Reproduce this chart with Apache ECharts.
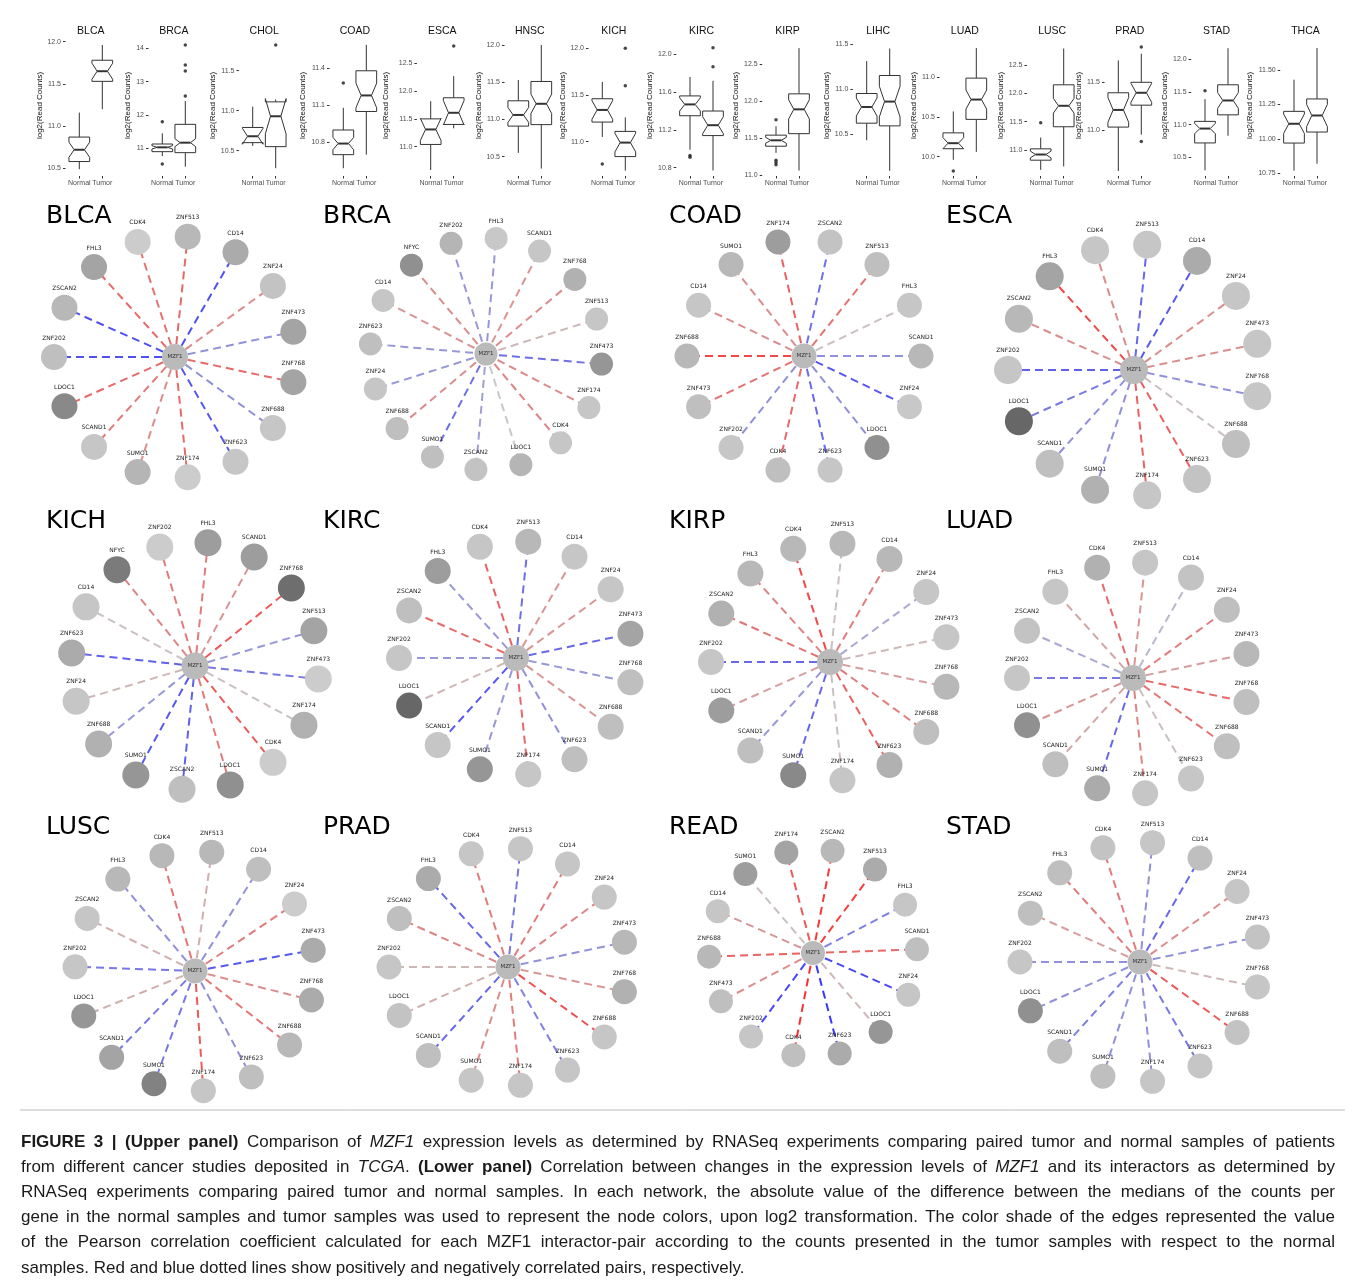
<!DOCTYPE html>
<html>
<head>
<meta charset="utf-8">
<script src="https://cdn.jsdelivr.net/npm/echarts@6/dist/echarts.min.js"></script>
<style>
  html, body { margin: 0; padding: 0; background: #ffffff; }
  #chart { width: 1360px; height: 1286px; }
</style>
</head>
<body>
<div id="chart"></div>
<script>
// ---------------- Upper panel: MZF1 expression, log2(read counts) ----------------
const cancerTypes = ['BLCA','BRCA','CHOL','COAD','ESCA','HNSC','KICH','KIRC','KIRP','LIHC','LUAD','LUSC','PRAD','STAD','THCA'];
const groups = ['Normal', 'Tumor'];

// [lower whisker, Q1, median, Q3, upper whisker, notch half-height]
const normalStats = [
  [10.49, 10.58, 10.72, 10.87, 11.16, 0.09],
  [10.77, 10.90, 11.03, 11.13, 11.45, 0.05],
  [10.56, 10.60, 10.68, 10.79, 11.05, 0.10],
  [10.59, 10.70, 10.79, 10.90, 11.08, 0.05],
  [10.58, 11.04, 11.31, 11.50, 11.82, 0.20],
  [10.55, 10.91, 11.06, 11.25, 11.53, 0.10],
  [11.05, 11.21, 11.34, 11.46, 11.64, 0.10],
  [10.99, 11.35, 11.47, 11.56, 11.76, 0.07],
  [11.30, 11.39, 11.47, 11.54, 11.66, 0.04],
  [10.43, 10.62, 10.80, 10.95, 11.31, 0.10],
  [9.96, 10.10, 10.17, 10.30, 10.57, 0.07],
  [10.65, 10.82, 10.92, 11.02, 11.22, 0.06],
  [10.57, 11.03, 11.21, 11.39, 11.73, 0.13],
  [10.30, 10.72, 10.94, 11.05, 11.39, 0.08],
  [10.77, 10.97, 11.11, 11.20, 11.43, 0.07]
];
const tumorStats = [
  [11.20, 11.53, 11.65, 11.78, 11.96, 0.095],
  [10.45, 10.87, 11.17, 11.72, 12.42, 0.12],
  [10.28, 10.55, 10.93, 11.11, 11.14, 0.22],
  [10.70, 11.05, 11.18, 11.38, 11.59, 0.10],
  [11.33, 11.40, 11.61, 11.88, 12.27, 0.22],
  [10.34, 10.93, 11.21, 11.51, 12.00, 0.13],
  [10.69, 10.84, 10.99, 11.11, 11.26, 0.10],
  [10.77, 11.14, 11.25, 11.40, 11.72, 0.09],
  [11.06, 11.56, 11.89, 12.10, 12.72, 0.13],
  [10.09, 10.59, 10.86, 11.15, 11.45, 0.17],
  [10.06, 10.47, 10.72, 10.99, 11.37, 0.12],
  [10.71, 11.41, 11.78, 12.15, 12.79, 0.13],
  [10.95, 11.26, 11.39, 11.50, 11.80, 0.10],
  [10.83, 11.15, 11.37, 11.61, 12.17, 0.12],
  [10.82, 11.05, 11.17, 11.29, 11.66, 0.08]
];
const normalOutliers = [[], [11.8, 10.53], [], [11.28], [], [], [10.76], [10.93, 10.91], [11.75, 11.2, 11.17, 11.14], [], [9.82], [11.48], [], [11.52], []];
const tumorOutliers = [[], [14.1, 13.5, 13.32, 12.57], [11.82], [], [12.81], [], [12.0, 11.6], [12.07, 11.87], [], [], [], [], [11.87, 10.88], [], []];

// y-axis limits and tick labels of each small plot
const yLimits = [
  [10.409, 12.079], [10.17, 14.40], [10.183, 11.946], [10.527, 11.670], [10.472, 13.010],
  [10.240, 12.134], [10.632, 12.143], [10.712, 12.205], [10.986, 12.898], [10.033, 11.600],
  [9.756, 11.534], [10.541, 13.029], [10.517, 11.996], [10.214, 12.372], [10.731, 11.754]
];
const yTicks = [
  [10.5, 11.0, 11.5, 12.0], [11, 12, 13, 14], [10.5, 11.0, 11.5], [10.8, 11.1, 11.4], [11.0, 11.5, 12.0, 12.5],
  [10.5, 11.0, 11.5, 12.0], [11.0, 11.5, 12.0], [10.8, 11.2, 11.6, 12.0], [11.0, 11.5, 12.0, 12.5], [10.5, 11.0, 11.5],
  [10.0, 10.5, 11.0], [11.0, 11.5, 12.0, 12.5], [11.0, 11.5], [10.5, 11.0, 11.5, 12.0], [10.75, 11.00, 11.25, 11.50]
];
const yTickDecimals = [1, 0, 1, 1, 1, 1, 1, 1, 1, 1, 1, 1, 1, 1, 2];

// ---------------- Lower panel: MZF1 interaction networks ----------------
const networkNames = ['BLCA','BRCA','COAD','ESCA','KICH','KIRC','KIRP','LUAD','LUSC','PRAD','READ','STAD'];

// interactors, clockwise around MZF1
const ringA = ['ZNF202','ZSCAN2','FHL3','CDK4','ZNF513','CD14','ZNF24','ZNF473','ZNF768','ZNF688','ZNF623','ZNF174','SUMO1','SCAND1','LDOC1'];
const ringB = ['ZNF688','CD14','SUMO1','ZNF174','ZSCAN2','ZNF513','FHL3','SCAND1','ZNF24','LDOC1','ZNF623','CDK4','ZNF202','ZNF473'];
const ringC = ['ZNF623','CD14','NFYC','ZNF202','FHL3','SCAND1','ZNF768','ZNF513','ZNF473','ZNF174','CDK4','LDOC1','ZSCAN2','SUMO1','ZNF688','ZNF24'];

// node shade: |median(normal) - median(tumor)| on log2 scale (0..1 shade range)
// edge: Pearson correlation of MZF1 with each interactor
const blcaDiff = [.15,.2,.35,.05,.2,.3,.12,.35,.35,.1,.1,.05,.22,.1,.55];
const blcaCorr = [-.75,-.75,.55,.5,.55,-.75,.35,-.35,.55,-.35,-.7,.55,.35,.45,.55];
const brcaDiff = [.15,.1,.5,.22,.08,.1,.25,.1,.45,.1,.1,.22,.12,.15,.15,.1];
const brcaCorr = [-.3,.3,.35,-.3,-.3,.3,.35,.1,-.55,.35,.4,0,-.25,-.55,.35,-.3];
const coadDiff = [.2,.1,.2,.4,.12,.15,.1,.2,.08,.5,.1,.15,.1,.15];
const coadCorr = [.75,.35,.35,.6,-.55,.5,.05,-.35,-.7,-.35,-.6,.55,-.35,.5];
const escaDiff = [.1,.2,.35,.1,.1,.3,.1,.1,.1,.15,.12,.1,.25,.15,.8];
const escaCorr = [-.65,.35,.75,.35,-.6,-.7,.35,.35,-.35,.05,.6,.6,-.35,-.35,-.5];
const kichDiff = [.3,.1,.65,.05,.4,.4,.75,.35,.05,.25,.05,.5,.15,.45,.25,.1];
const kichCorr = [-.65,.05,.4,.45,.45,.3,.65,-.3,-.5,.05,.65,.45,-.65,-.7,-.3,.1];
const kircDiff = [.1,.15,.4,.1,.2,.1,.1,.35,.15,.15,.15,.1,.45,.1,.8];
const kircCorr = [-.3,.55,-.3,.6,-.55,.3,.3,-.6,-.3,.3,-.35,.55,-.3,-.7,.1];
const kirpDiff = [.1,.25,.2,.2,.2,.2,.1,.1,.2,.15,.25,.1,.55,.15,.4];
const kirpCorr = [-.6,.5,.4,.75,.05,.45,-.2,.1,.25,.45,.6,.05,-.6,-.3,.25];
const luadDiff = [.1,.12,.1,.25,.1,.12,.15,.2,.15,.15,.1,.1,.3,.15,.5];
const luadCorr = [-.5,-.2,.2,.55,.3,-.1,.45,.25,.55,.5,.05,.4,-.6,.2,.3];
const luscDiff = [.1,.1,.2,.2,.2,.15,.05,.3,.3,.2,.15,.1,.6,.35,.45];
const luscCorr = [-.5,.15,-.35,.5,.15,-.35,.45,-.7,.35,.5,-.35,.65,-.5,-.5,.15];
const pradDiff = [.1,.15,.3,.1,.1,.1,.1,.2,.25,.1,.1,.1,.1,.15,.12];
const pradCorr = [.1,.4,-.6,.45,-.5,.45,.4,-.35,.3,.7,-.45,.45,.35,-.6,.15];
const readDiff = [.2,.1,.4,.35,.2,.3,.1,.15,.1,.45,.3,.15,.1,.15];
const readCorr = [.6,.3,.05,.65,.85,.8,-.45,.55,-.8,.1,-.9,.9,-.8,.35];
const stadDiff = [.1,.15,.15,.12,.1,.15,.1,.12,.1,.12,.1,.1,.15,.15,.5];
const stadCorr = [-.35,.25,.45,.45,-.35,-.6,.35,-.35,.1,.65,-.5,-.35,-.35,-.45,-.35];

const networkGenes = [ringA, ringC, ringB, ringA, ringC, ringA, ringA, ringA, ringA, ringA, ringB, ringA];
const networkDiffs = [blcaDiff, brcaDiff, coadDiff, escaDiff, kichDiff, kircDiff, kirpDiff, luadDiff, luscDiff, pradDiff, readDiff, stadDiff];
const networkCorrs = [blcaCorr, brcaCorr, coadCorr, escaCorr, kichCorr, kircCorr, kirpCorr, luadCorr, luscCorr, pradCorr, readCorr, stadCorr];

// ---------------- layout ----------------
const boxNormalX = [79.3, 162.3, 252.7, 343.3, 430.7, 518.3, 602.3, 690, 776, 866.7, 953.3, 1040.7, 1118.3, 1205, 1294];
const catStep = 23;
const yNameGap = [19, 17, 18, 23, 27, 22, 21, 20, 18, 19, 20, 19, 21, 18, 21];
const netLayout = [ // [centerX, centerY, ring radius, start angle, node size]
  [175, 357, 121, 180, 26], [486, 354, 116, 175, 23], [804, 356, 117, 180, 25], [1134, 370, 126, 180, 28],
  [195, 666, 124, 174, 27], [516, 658, 117, 180, 26], [830, 662, 119, 180, 26], [1133, 678, 116, 180, 26],
  [195, 971, 120, 178, 25], [508, 967, 119, 180, 25], [813, 953, 104, 182, 24], [1140, 962, 120, 180, 25]
];
const netTitlePos = [[46,216],[323,216],[669,216],[946,216],[46,521],[323,521],[669,521],[946,521],[46,827],[323,827],[669,827],[946,827]];

const BOX_FONT = '"Liberation Sans", Arial, sans-serif';
const NET_FONT = '"DejaVu Sans", sans-serif';

function nodeColor(d) {
  const g = Math.round(211 - d * 135);
  return `rgb(${g},${g},${g})`;
}
function edgeColor(r) {
  const t = Math.min(1, Math.abs(r));
  const base = [200, 200, 200];
  const end = r >= 0 ? [255, 30, 30] : [40, 40, 255];
  const c = base.map((b, k) => Math.round(b + (end[k] - b) * t));
  return `rgb(${c[0]},${c[1]},${c[2]})`;
}

function renderBox(params, api) {
  const x = api.value(0);
  const lo = api.value(1), q1 = api.value(2), med = api.value(3), q3 = api.value(4), hi = api.value(5), nh = api.value(6);
  const half = api.size([0.9, 0])[0] / 2;
  const P = v => api.coord([x, v])[1];
  const cx = api.coord([x, med])[0];
  const yq1 = P(q1), yq3 = P(q3), ym = P(med), ynl = P(med - nh), ynh = P(med + nh), ylo = P(lo), yhi = P(hi);
  const L = cx - half, R = cx + half, nL = cx - half / 2, nR = cx + half / 2;
  const stroke = { stroke: '#333333', lineWidth: 1 };
  return {
    type: 'group',
    children: [
      { type: 'line', shape: { x1: cx, y1: yhi, x2: cx, y2: yq3 }, style: stroke },
      { type: 'line', shape: { x1: cx, y1: yq1, x2: cx, y2: ylo }, style: stroke },
      { type: 'polygon', shape: { points: [[L, yq3], [R, yq3], [R, ynh], [nR, ym], [R, ynl], [R, yq1], [L, yq1], [L, ynl], [nL, ym], [L, ynh]] },
        style: { fill: '#ffffff', stroke: '#333333', lineWidth: 1 } },
      { type: 'line', shape: { x1: nL, y1: ym, x2: nR, y2: ym }, style: { stroke: '#333333', lineWidth: 2 } }
    ]
  };
}

const grids = [], xAxes = [], yAxes = [], series = [], graphics = [];

cancerTypes.forEach((name, i) => {
  const left = boxNormalX[i] - 0.6 * catStep;
  grids.push({ left: left, top: 35, width: 2.2 * catStep, height: 141 });
  xAxes.push({
    gridIndex: i, type: 'value', min: -0.6, max: 1.6,
    splitLine: { show: false }, axisLine: { show: false, onZero: false },
    axisTick: { show: true, length: 2.5, customValues: [0, 1], lineStyle: { color: '#333' } },
    axisLabel: { customValues: [0, 1], formatter: v => groups[Math.round(v)], fontSize: 7, color: '#4d4d4d', margin: 4, fontFamily: BOX_FONT }
  });
  const dec = yTickDecimals[i];
  yAxes.push({
    gridIndex: i, type: 'value', min: yLimits[i][0], max: yLimits[i][1],
    splitLine: { show: false }, axisLine: { show: false, onZero: false },
    axisTick: { show: true, length: 2.5, customValues: yTicks[i], lineStyle: { color: '#333' } },
    axisLabel: { customValues: yTicks[i], formatter: v => v.toFixed(dec), fontSize: 7, color: '#4d4d4d', margin: 4.5, fontFamily: BOX_FONT },
    name: 'log2(Read Counts)', nameLocation: 'middle', nameGap: yNameGap[i],
    nameTextStyle: { fontSize: 8, color: '#111', fontFamily: BOX_FONT }
  });
  series.push({
    type: 'custom', xAxisIndex: i, yAxisIndex: i, renderItem: renderBox, silent: true,
    data: [[0].concat(normalStats[i]), [1].concat(tumorStats[i])]
  });
  series.push({
    type: 'scatter', xAxisIndex: i, yAxisIndex: i, symbolSize: 3.5, silent: true,
    itemStyle: { color: '#1a1a1a' },
    data: normalOutliers[i].map(v => [0, v]).concat(tumorOutliers[i].map(v => [1, v]))
  });
  graphics.push({
    type: 'text', x: left + 1.1 * catStep, y: 31, silent: true,
    style: { text: name, fontSize: 10.5, fontFamily: BOX_FONT, fill: '#111', align: 'center', verticalAlign: 'middle' }
  });
});

const polars = [], angleAxes = [], radiusAxes = [];
networkNames.forEach((name, k) => {
  const [cx, cy, r, start, size] = netLayout[k];
  const genes = networkGenes[k];
  polars.push({ center: [cx, cy], radius: r });
  angleAxes.push({ polarIndex: k, type: 'value', min: 0, max: genes.length, startAngle: start, clockwise: true, show: false });
  radiusAxes.push({ polarIndex: k, type: 'value', min: 0, max: 1, show: false });
  const nodes = [{
    name: 'MZF1', value: [0, 0], itemStyle: { color: '#bababa' },
    label: { position: 'inside', fontSize: 5.5, color: '#333' }
  }].concat(genes.map((g, i) => ({ name: g, value: [1, i], itemStyle: { color: nodeColor(networkDiffs[k][i]) } })));
  const links = genes.map((g, i) => ({ source: 'MZF1', target: g, lineStyle: { color: edgeColor(networkCorrs[k][i]) } }));
  series.push({
    type: 'graph', coordinateSystem: 'polar', polarIndex: k, layout: 'none',
    symbol: 'circle', symbolSize: size, silent: true, animation: false,
    data: nodes, links: links,
    lineStyle: { width: 2, type: [8, 5], opacity: 1, curveness: 0 },
    label: { show: true, position: 'top', distance: 3, fontSize: 6, color: '#222', fontFamily: NET_FONT },
    emphasis: { disabled: true }
  });
  graphics.push({
    type: 'text', x: netTitlePos[k][0], y: netTitlePos[k][1], silent: true,
    style: { text: name, fontSize: 25, fontFamily: NET_FONT, fill: '#000', align: 'left', verticalAlign: 'middle' }
  });
});

// ---------------- caption ----------------
const captionLines = [
  [['b', 'FIGURE 3 | (Upper panel)'], ['n', ' Comparison of '], ['i', 'MZF1'], ['n', ' expression levels as determined by RNASeq experiments comparing paired tumor and normal samples of patients']],
  [['n', 'from different cancer studies deposited in '], ['i', 'TCGA'], ['n', '. '], ['b', '(Lower panel)'], ['n', ' Correlation between changes in the expression levels of '], ['i', 'MZF1'], ['n', ' and its interactors as determined by']],
  [['n', 'RNASeq experiments comparing paired tumor and normal samples. In each network, the absolute value of the difference between the medians of the counts per']],
  [['n', 'gene in the normal samples and tumor samples was used to represent the node colors, upon log2 transformation. The color shade of the edges represented the value']],
  [['n', 'of the Pearson correlation coefficient calculated for each MZF1 interactor-pair according to the counts presented in the tumor samples with respect to the normal']],
  [['n', 'samples. Red and blue dotted lines show positively and negatively correlated pairs, respectively.']]
];
const CAP_FONT = '"Liberation Sans", Arial, sans-serif';
const capCanvas = document.createElement('canvas').getContext('2d');
function fontFor(st, size) {
  return (st === 'i' ? 'italic ' : '') + (st === 'b' ? 'bold ' : '') + size + 'px ' + CAP_FONT;
}
function measure(st, txt, size) { capCanvas.font = fontFor(st, size); return capCanvas.measureText(txt).width; }
function splitWords(runs) {
  const words = []; let cur = [];
  runs.forEach(([st, txt]) => {
    txt.split(' ').forEach((p, j) => {
      if (j > 0) { if (cur.length) words.push(cur); cur = []; }
      if (p) cur.push([st, p]);
    });
  });
  if (cur.length) words.push(cur);
  return words;
}
const lastLineText = captionLines[5][0][1];
const capSize = Math.min(17, 16 * 764 / measure('n', lastLineText, 16));
const capLeft = 21, capRight = 1335, capTop = 1142, capStep = 25.2;
captionLines.forEach((runs, li) => {
  const words = splitWords(runs);
  const widths = words.map(w => w.reduce((s, [st, t]) => s + measure(st, t, capSize), 0));
  const total = widths.reduce((a, b) => a + b, 0);
  const justify = li < captionLines.length - 1;
  const gap = justify ? (capRight - capLeft - total) / (words.length - 1) : measure('n', ' ', capSize);
  let x = capLeft;
  words.forEach((w, wi) => {
    let xx = x;
    w.forEach(([st, t]) => {
      graphics.push({
        type: 'text', x: xx, y: capTop + li * capStep, silent: true,
        style: { text: t, fontSize: capSize, fontFamily: CAP_FONT, fontWeight: st === 'b' ? 'bold' : 'normal',
                 fontStyle: st === 'i' ? 'italic' : 'normal', fill: '#1a1a1a', verticalAlign: 'middle' }
      });
      xx += measure(st, t, capSize);
    });
    x += widths[wi] + gap;
  });
});
graphics.push({ type: 'line', silent: true, shape: { x1: 20, y1: 1110, x2: 1345, y2: 1110 }, style: { stroke: '#bbbbbb', lineWidth: 1 } });

const chart = echarts.init(document.getElementById('chart'), null, { renderer: 'canvas' });
chart.setOption({
  animation: false,
  backgroundColor: '#ffffff',
  grid: grids, xAxis: xAxes, yAxis: yAxes,
  polar: polars, angleAxis: angleAxes, radiusAxis: radiusAxes,
  series: series,
  graphic: graphics
});
</script>
</body>
</html>
